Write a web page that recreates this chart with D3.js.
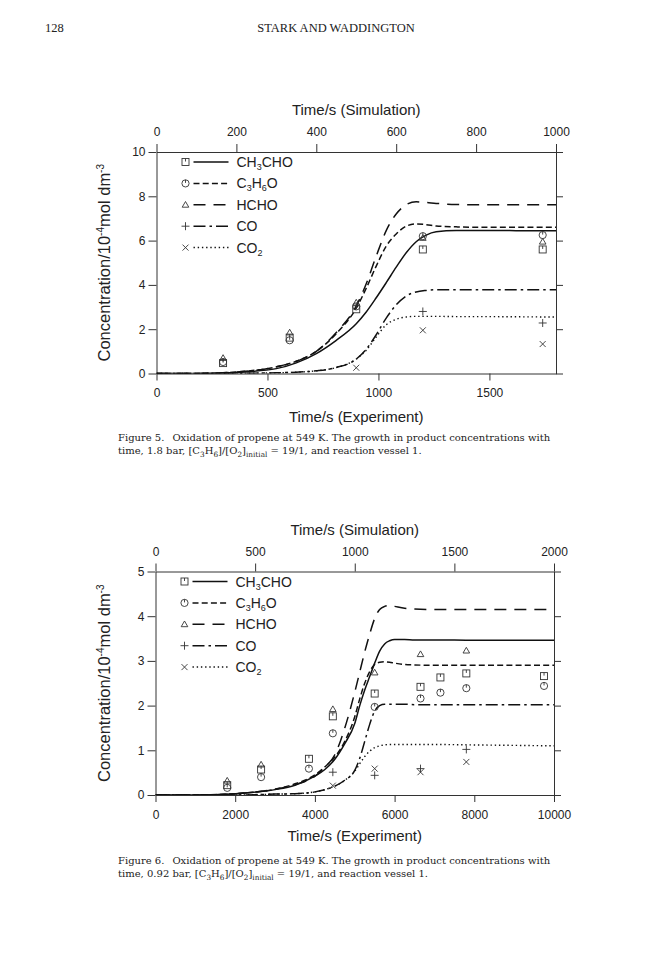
<!DOCTYPE html>
<html><head><meta charset="utf-8">
<script src="https://cdn.jsdelivr.net/npm/d3@7/dist/d3.min.js"></script>
<style>
html,body{margin:0;padding:0;background:#fff;}
svg{display:block;}
text{font-family:"Liberation Sans",Arial,Helvetica,sans-serif;fill:#222;}
.serif{font-family:"DejaVu Serif","Liberation Serif",serif;}
.hdr{font-family:"Liberation Serif","Times New Roman",serif;}
</style></head>
<body>
<script>
// ---------- Figure 5 data ----------
const f5ExpTime = [300, 600, 900, 1200, 1740];
const f5ExpCH3CHO = [0.47, 1.62, 2.9, 5.6, 5.6];
const f5ExpC3H6O = [0.52, 1.5, 3.03, 6.2, 6.25];
const f5ExpHCHO = [0.7, 1.85, 3.2, 6.12, 5.95];
const f5ExpCO = [null, null, null, 2.8, 2.28];
const f5ExpCO2 = [null, null, 0.26, 1.95, 1.33];

const f5SimTime = [0, 100, 200, 300, 350, 400, 450, 500, 525, 550, 575, 600, 625, 650, 675, 700, 750, 800, 900, 1000];
const f5SimCH3CHO = [0, 0, 0.05, 0.22, 0.48, 0.9, 1.5, 2.25, 2.78, 3.42, 4.1, 4.8, 5.45, 5.95, 6.25, 6.4, 6.46, 6.46, 6.45, 6.45];
const f5SimC3H6O = [0, 0, 0.07, 0.3, 0.55, 1.0, 1.8, 2.95, 3.85, 4.85, 5.75, 6.3, 6.65, 6.75, 6.72, 6.66, 6.62, 6.6, 6.6, 6.6];
const f5SimHCHO = [0, 0, 0.07, 0.3, 0.55, 1.0, 1.85, 3.05, 4.05, 5.3, 6.45, 7.2, 7.62, 7.75, 7.72, 7.68, 7.63, 7.62, 7.62, 7.62];
const f5SimCO = [0, 0, 0.01, 0.03, 0.06, 0.12, 0.27, 0.65, 1.1, 1.75, 2.5, 3.1, 3.5, 3.68, 3.75, 3.78, 3.78, 3.78, 3.78, 3.78];
const f5SimCO2 = [0, 0, 0.01, 0.03, 0.06, 0.12, 0.27, 0.65, 1.05, 1.65, 2.2, 2.45, 2.55, 2.58, 2.58, 2.58, 2.57, 2.57, 2.56, 2.55];

// ---------- Figure 6 data ----------
const f6ExpTime = [1800, 2650, 3850, 4450, 5500, 6650, 7150, 7800, 9750];
const f6ExpCH3CHO = [0.22, 0.57, 0.81, 1.76, 2.27, 2.42, 2.63, 2.72, 2.66];
const f6ExpC3H6O = [0.16, 0.4, 0.59, 1.38, 1.97, 2.16, 2.29, 2.39, 2.44];
const f6ExpHCHO = [0.32, 0.68, null, 1.92, 2.74, 3.15, null, 3.23, null];
const f6ExpCO = [null, null, null, 0.51, 0.44, 0.59, null, 1.02, null];
const f6ExpCO2 = [null, null, null, 0.21, 0.59, 0.51, null, 0.74, null];

const f6SimTime = [0, 200, 400, 600, 700, 800, 850, 900, 950, 1000, 1025, 1050, 1075, 1100, 1125, 1150, 1175, 1200, 1250, 1300, 1400, 1600, 1800, 2000];
const f6SimCH3CHO = [0, 0, 0.03, 0.12, 0.22, 0.42, 0.57, 0.8, 1.15, 1.6, 2.0, 2.35, 2.65, 2.95, 3.22, 3.38, 3.45, 3.48, 3.48, 3.47, 3.47, 3.46, 3.46, 3.46];
const f6SimC3H6O = [0, 0, 0.03, 0.13, 0.25, 0.45, 0.63, 0.85, 1.2, 1.75, 2.15, 2.5, 2.76, 2.92, 2.97, 2.98, 2.97, 2.95, 2.92, 2.91, 2.9, 2.9, 2.9, 2.9];
const f6SimHCHO = [0, 0, 0.03, 0.13, 0.23, 0.42, 0.62, 0.9, 1.5, 2.3, 2.75, 3.2, 3.6, 3.95, 4.15, 4.22, 4.24, 4.22, 4.18, 4.16, 4.15, 4.15, 4.15, 4.15];
const f6SimCO = [0, 0, 0, 0.02, 0.03, 0.07, 0.12, 0.2, 0.33, 0.55, 0.82, 1.2, 1.58, 1.88, 2.0, 2.03, 2.03, 2.03, 2.03, 2.02, 2.02, 2.02, 2.02, 2.02];
const f6SimCO2 = [0, 0, 0, 0.02, 0.03, 0.07, 0.12, 0.2, 0.33, 0.53, 0.7, 0.86, 0.98, 1.06, 1.1, 1.12, 1.13, 1.13, 1.13, 1.13, 1.13, 1.12, 1.11, 1.1];

// ---------- tick labels ----------
const f5SimTicks = [0, 200, 400, 600, 800, 1000];
const f5ExpTicks = [0, 500, 1000, 1500];
const f5YTicks = [0, 2, 4, 6, 8, 10];
const f6SimTicks = [0, 500, 1000, 1500, 2000];
const f6ExpTicks = [0, 2000, 4000, 6000, 8000, 10000];
const f6YTicks = [0, 1, 2, 3, 4, 5];

const speciesKeys = ["CH3CHO", "C3H6O", "HCHO", "CO", "CO2"];
const speciesLabels = [
  [["CH",0],["3",1],["CHO",0]],
  [["C",0],["3",1],["H",0],["6",1],["O",0]],
  [["HCHO",0]],
  [["CO",0]],
  [["CO",0],["2",1]]
];
const markerTypes = ["square", "circle", "triangle", "plus", "cross"];
const dashes = [null, "6,3.2", "12,8", "12,4,2.5,4", "1.4,2.8"];

const W = 672, H = 960;
const svg = d3.select("body").append("svg").attr("width", W).attr("height", H);
svg.append("rect").attr("width", W).attr("height", H).attr("fill", "#fff");

// header
svg.append("text").attr("class","hdr").attr("x", 45).attr("y", 32).attr("font-size", 12.5).text("128");
svg.append("text").attr("class","hdr").attr("x", 336).attr("y", 32).attr("text-anchor","middle").attr("font-size", 12.5).text("STARK AND WADDINGTON");

function marker(g, type, x, y) {
  const s = g.append("g").attr("transform", `translate(${x},${y})`)
    .attr("fill","none").attr("stroke","#333").attr("stroke-width",0.9);
  if (type === "square") {
    s.append("rect").attr("x",-3.5).attr("y",-3.5).attr("width",7).attr("height",7);
    s.append("line").attr("x1",0).attr("x2",0).attr("y1",-3.5).attr("y2",-0.5);
  } else if (type === "circle") {
    s.append("circle").attr("r",3.6);
    s.append("line").attr("x1",0).attr("x2",0).attr("y1",-3.6).attr("y2",-0.5);
  } else if (type === "triangle") {
    s.append("path").attr("d","M0,-3.3L3.3,2.4L-3.3,2.4Z");
  } else if (type === "plus") {
    s.append("path").attr("d","M-4,0H4M0,-4V4");
  } else {
    s.append("path").attr("d","M-3,-3L3,3M-3,3L3,-3");
  }
}

function drawPanel(cfg) {
  const g = svg.append("g");
  const xSim = d3.scaleLinear().domain(cfg.simDomain).range([cfg.left, cfg.right]);
  const xExp = d3.scaleLinear().domain(cfg.expDomain).range([cfg.left, cfg.right]);
  const y = d3.scaleLinear().domain(cfg.yDomain).range([cfg.bottom, cfg.top]);
  const fmt = d3.format("d");

  const styleAxis = sel => {
    sel.select(".domain").attr("stroke","#333").attr("stroke-width",1);
    sel.selectAll(".tick line").attr("stroke","#333").attr("stroke-width",1);
    sel.selectAll(".tick text").attr("fill","#222").attr("font-size",12)
      .attr("font-family",'"Liberation Sans",Arial,sans-serif');
  };
  g.append("g").attr("transform",`translate(0,${cfg.top})`)
    .call(d3.axisTop(xSim).tickValues(cfg.simTicks).tickFormat(fmt).tickSize(8).tickPadding(8).tickSizeOuter(0)).call(styleAxis);
  g.append("g").attr("transform",`translate(0,${cfg.bottom})`)
    .call(d3.axisBottom(xExp).tickValues(cfg.expTicks).tickFormat(fmt).tickSize(7).tickPadding(8).tickSizeOuter(0)).call(styleAxis);
  g.append("g").attr("transform",`translate(${cfg.left},0)`)
    .call(d3.axisLeft(y).tickValues(cfg.yTicks).tickFormat(fmt).tickSize(8).tickPadding(3).tickSizeOuter(0)).call(styleAxis);
  g.append("g").attr("transform",`translate(${cfg.right},0)`)
    .call(d3.axisRight(y).tickValues(cfg.yTicks).tickSize(7).tickFormat("").tickSizeOuter(0)).call(styleAxis);
  g.selectAll(".domain").attr("fill","none");

  // titles
  const cx = (cfg.left + cfg.right) / 2;
  g.append("text").attr("x", cx).attr("y", cfg.top - 37).attr("text-anchor","middle").attr("font-size",15).text("Time/s (Simulation)");
  g.append("text").attr("x", cx).attr("y", cfg.bottom + cfg.expTitleOff).attr("text-anchor","middle").attr("font-size",15).text("Time/s (Experiment)");
  const cy = (cfg.top + cfg.bottom) / 2;
  const yl = g.append("text").attr("transform",`translate(110,${cy}) rotate(-90)`).attr("text-anchor","middle").attr("font-size",16.5);
  yl.append("tspan").text("Concentration/10");
  yl.append("tspan").attr("dy",-6).attr("font-size",10).text("-4");
  yl.append("tspan").attr("dy",6).text("mol dm");
  yl.append("tspan").attr("dy",-6).attr("font-size",10).text("-3");

  // curves
  const clipId = "clip" + cfg.id;
  svg.append("clipPath").attr("id", clipId).append("rect")
    .attr("x", cfg.left).attr("y", cfg.top).attr("width", cfg.right - cfg.left).attr("height", cfg.bottom - cfg.top);
  const line = d3.line().x(d => xSim(d[0])).y(d => y(d[1])).curve(d3.curveMonotoneX);
  cfg.sims.forEach((vals, i) => {
    const pts = cfg.simTime.map((t, k) => [t, vals[k]]);
    const p = g.append("path").attr("d", line(pts)).attr("fill","none").attr("stroke","#111")
      .attr("stroke-width", i === 4 ? 1.4 : 1.5).attr("clip-path", `url(#${clipId})`);
    if (dashes[i]) p.attr("stroke-dasharray", dashes[i]);
  });

  // experimental points
  cfg.exps.forEach((vals, i) => {
    cfg.expTime.forEach((t, k) => {
      if (vals[k] == null) return;
      marker(g, markerTypes[i], xExp(t), y(vals[k]));
    });
  });

  // legend
  speciesKeys.forEach((key, i) => {
    const ly = cfg.top + 10 + i * 21.4;
    marker(g, markerTypes[i], cfg.left + 29, ly);
    const l = g.append("line").attr("x1", cfg.left + 37).attr("x2", cfg.left + 72).attr("y1", ly).attr("y2", ly)
      .attr("stroke","#111").attr("stroke-width",1.5);
    if (dashes[i]) l.attr("stroke-dasharray", dashes[i]);
    const t = g.append("text").attr("x", cfg.left + 80).attr("y", ly + 5).attr("font-size",14);
    let sub = false;
    speciesLabels[i].forEach(([s, isSub]) => {
      const ts = t.append("tspan").text(s);
      if (isSub && !sub) { ts.attr("dy", 3).attr("font-size", 9); sub = true; }
      else if (isSub && sub) { ts.attr("font-size", 9); }
      else if (!isSub && sub) { ts.attr("dy", -3); sub = false; }
    });
  });

  // caption
  const fs = 10, ss = 7.3;
  const c1 = g.append("text").attr("class","serif").attr("x", cfg.capX).attr("y", cfg.capY).attr("font-size", fs);
  c1.append("tspan").text(`Figure ${cfg.id}.`);
  c1.append("tspan").attr("dx", 8).text("Oxidation of propene at 549 K. The growth in product concentrations with");
  const c2 = g.append("text").attr("class","serif").attr("x", cfg.capX).attr("y", cfg.capY + 13).attr("font-size", fs);
  c2.append("tspan").text(`time, ${cfg.pressure} bar, [C`);
  c2.append("tspan").attr("dy",2.5).attr("font-size",ss).text("3");
  c2.append("tspan").attr("dy",-2.5).text("H");
  c2.append("tspan").attr("dy",2.5).attr("font-size",ss).text("6");
  c2.append("tspan").attr("dy",-2.5).text("]/[O");
  c2.append("tspan").attr("dy",2.5).attr("font-size",ss).text("2");
  c2.append("tspan").attr("dy",-2.5).text("]");
  c2.append("tspan").attr("dy",2.5).attr("font-size",ss).text("initial");
  c2.append("tspan").attr("dy",-2.5).text(" = 19/1, and reaction vessel 1.");
}

drawPanel({
  id: 5, left: 156.5, right: 556, top: 152, bottom: 373.5,
  simDomain: [0, 1000], expDomain: [0, 1800], yDomain: [0, 10],
  simTicks: f5SimTicks, expTicks: f5ExpTicks, yTicks: f5YTicks,
  simTime: f5SimTime, sims: [f5SimCH3CHO, f5SimC3H6O, f5SimHCHO, f5SimCO, f5SimCO2],
  expTime: f5ExpTime, exps: [f5ExpCH3CHO, f5ExpC3H6O, f5ExpHCHO, f5ExpCO, f5ExpCO2],
  expTitleOff: 48, capX: 118, capY: 441, pressure: "1.8"
});
drawPanel({
  id: 6, left: 155.5, right: 554, top: 571.5, bottom: 795,
  simDomain: [0, 2000], expDomain: [0, 10000], yDomain: [0, 5],
  simTicks: f6SimTicks, expTicks: f6ExpTicks, yTicks: f6YTicks,
  simTime: f6SimTime, sims: [f6SimCH3CHO, f6SimC3H6O, f6SimHCHO, f6SimCO, f6SimCO2],
  expTime: f6ExpTime, exps: [f6ExpCH3CHO, f6ExpC3H6O, f6ExpHCHO, f6ExpCO, f6ExpCO2],
  expTitleOff: 46, capX: 118, capY: 864, pressure: "0.92"
});
</script>
</body></html>
